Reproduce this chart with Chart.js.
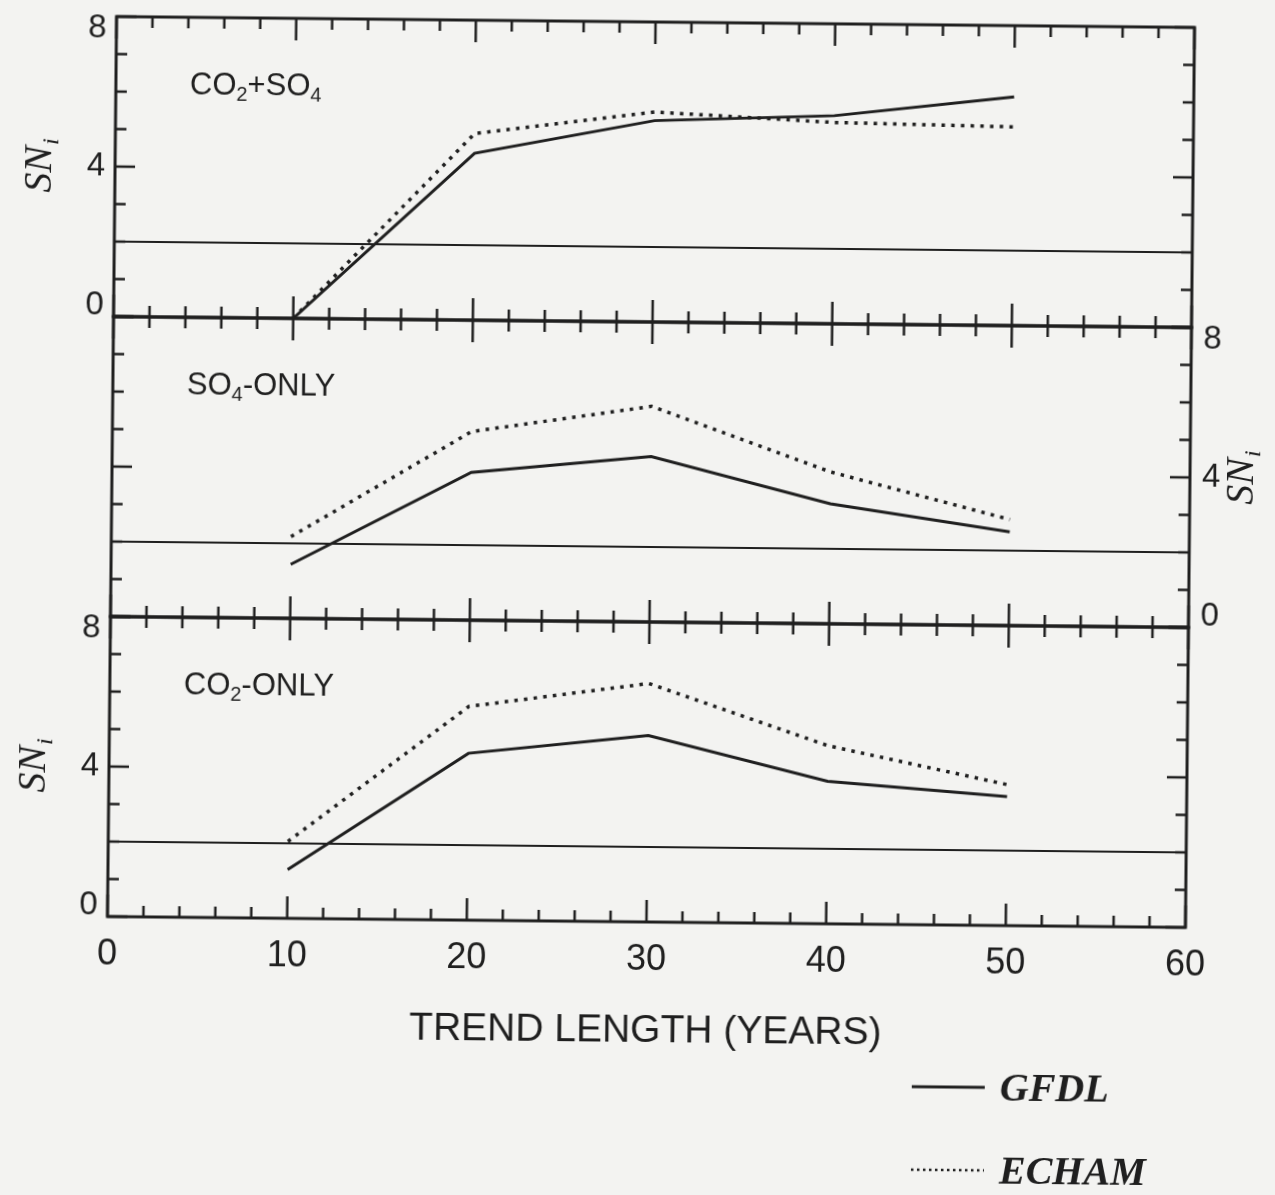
<!DOCTYPE html>
<html>
<head>
<meta charset="utf-8">
<script src="https://cdn.jsdelivr.net/npm/chart.js@4"></script>
<style>
  html, body { margin: 0; padding: 0; background: #f3f3f1; overflow: hidden; }
  #figure { position: relative; width: 1275px; height: 1195px; transform: rotate(0.58deg); transform-origin: 651px 472px; }
  #figure canvas { position: absolute; left: 0; }
</style>
</head>
<body>
<div id="figure">
  <canvas id="panelTop" width="1275" height="340" style="top:0px"></canvas>
  <canvas id="panelMid" width="1275" height="340" style="top:300px"></canvas>
  <canvas id="panelBot" width="1275" height="595" style="top:600px"></canvas>
</div>
<script>
// trend length (years) on the x axis
const trendYears = [10, 20, 30, 40, 50];

// SN_i for each experiment
const gfdlCO2SO4 = [0, 4.45, 5.37, 5.55, 6.1];
const echamCO2SO4 = [0, 4.98, 5.6, 5.37, 5.3];
const gfdlSO4 = [1.44, 3.94, 4.41, 3.2, 2.5];
const echamSO4 = [2.18, 5.03, 5.75, 4.05, 2.83];
const gfdlCO2 = [1.3, 4.45, 4.97, 3.8, 3.44];
const echamCO2 = [2.05, 5.7, 6.36, 4.75, 3.76];

// detection threshold
const thresholdYears = [0, 60];
const thresholdSN = [2, 2];

// tick labels
const xTickLabels = ['0', '10', '20', '30', '40', '50', '60'];
const yTickLabels = ['0', '4', '8'];

// panel names (text, subscript?)
const panelText = {
  panelTop: { runs: [['CO', false], ['2', true], ['+SO', false], ['4', true]], side: 'left' },
  panelMid: { runs: [['SO', false], ['4', true], ['-ONLY', false]], side: 'right' },
  panelBot: { runs: [['CO', false], ['2', true], ['-ONLY', false]], side: 'left', legend: true }
};

const INK = '#1f1f1f';
const SANS = '"Liberation Sans", Arial, sans-serif';
const SERIF = '"Liberation Serif", "Times New Roman", serif';

function makeSeries(label, values) {
  const dotted = label === 'ECHAM';
  return {
    label: label,
    data: trendYears.map((yr, i) => ({ x: yr, y: values[i] })),
    borderColor: INK,
    borderWidth: dotted ? 3.5 : 3,
    borderDash: dotted ? [3.5, 6.2] : [],
    pointRadius: 0,
    tension: 0,
    fill: false
  };
}

function thresholdLine() {
  return {
    label: 'threshold',
    data: thresholdYears.map((yr, i) => ({ x: yr, y: thresholdSN[i] })),
    borderColor: INK,
    borderWidth: 2,
    pointRadius: 0,
    fill: false
  };
}

// frame with inward ticks, panel name, SN_i title, legend
const panelDecor = {
  id: 'panelDecor',
  afterDatasetsDraw(chart) {
    const { ctx, chartArea: a, scales: { x, y } } = chart;
    const info = panelText[chart.canvas.id];
    ctx.save();
    ctx.strokeStyle = INK;
    ctx.fillStyle = INK;
    ctx.lineWidth = 3;
    ctx.strokeRect(a.left, a.top, a.right - a.left, a.bottom - a.top);

    ctx.lineWidth = 2.5;
    ctx.beginPath();
    for (let v = 0; v <= 60; v += 2) {
      const px = x.getPixelForValue(v);
      const len = v % 10 === 0 ? 22 : 11;
      ctx.moveTo(px, a.top); ctx.lineTo(px, a.top + len);
      ctx.moveTo(px, a.bottom); ctx.lineTo(px, a.bottom - len);
    }
    for (let v = 0; v <= 8; v += 1) {
      const py = y.getPixelForValue(v);
      const len = v % 4 === 0 ? 20 : 11;
      ctx.moveTo(a.left, py); ctx.lineTo(a.left + len, py);
      ctx.moveTo(a.right, py); ctx.lineTo(a.right - len, py);
    }
    ctx.stroke();

    // panel name with subscripts
    let tx = 186;
    const base = a.top + 77;
    ctx.textBaseline = 'alphabetic';
    ctx.textAlign = 'left';
    info.runs.forEach(([text, sub]) => {
      ctx.font = (sub ? '20px ' : '31px ') + SANS;
      ctx.fillText(text, tx, base + (sub ? 6 : 0));
      tx += ctx.measureText(text).width;
    });

    // SN_i axis title, reading upwards
    const cx = info.side === 'left' ? 35 : 1240;
    const cy = (a.top + a.bottom) / 2;
    ctx.translate(cx, cy);
    ctx.rotate(-Math.PI / 2);
    ctx.font = 'italic 40px ' + SERIF;
    const w1 = ctx.measureText('SN').width;
    ctx.font = 'italic 24px ' + SERIF;
    const w2 = ctx.measureText('i').width;
    const x0 = -(w1 + w2) / 2;
    ctx.font = 'italic 40px ' + SERIF;
    ctx.fillText('SN', x0, 13);
    ctx.font = 'italic 24px ' + SERIF;
    ctx.fillText('i', x0 + w1 + 1, 20);
    ctx.setTransform(1, 0, 0, 1, 0, 0);

    if (info.legend) {
      const rows = [{ label: 'GFDL', y: 484 }, { label: 'ECHAM', y: 567 }];
      rows.forEach(r => {
        const ds = chart.data.datasets.find(d => d.label === r.label);
        ctx.beginPath();
        ctx.lineWidth = ds.borderDash.length ? 2.5 : 3;
        ctx.setLineDash(ds.borderDash.length ? [2.5, 3.5] : []);
        ctx.moveTo(918, r.y);
        ctx.lineTo(991, r.y);
        ctx.stroke();
        ctx.setLineDash([]);
        ctx.font = 'italic bold 40px ' + SERIF;
        ctx.fillText(r.label, 1006, r.y + 13);
      });
    }
    ctx.restore();
  }
};

function yLabel(value) {
  const s = yTickLabels[value / 4];
  if (value === 8) return ['', s];
  if (value === 0) return [s, ''];
  return s;
}

function makePanel(id, gfdl, echam, opts) {
  const showX = !!opts.showX;
  return new Chart(document.getElementById(id), {
    type: 'line',
    data: { datasets: [makeSeries('GFDL', gfdl), makeSeries('ECHAM', echam), thresholdLine()] },
    options: {
      responsive: false,
      animation: false,
      devicePixelRatio: 1,
      layout: { padding: opts.padding },
      plugins: { legend: { display: false }, tooltip: { enabled: false } },
      scales: {
        x: {
          type: 'linear',
          min: 0, max: 60,
          display: showX,
          grid: { display: false, drawTicks: false },
          border: { display: false },
          ticks: {
            stepSize: 10, autoSkip: false, maxRotation: 0, padding: 16,
            color: INK, font: { family: SANS, size: 36 },
            callback: v => xTickLabels[v / 10]
          },
          title: {
            display: showX, text: 'TREND LENGTH (YEARS)', color: INK,
            font: { family: SANS, size: 39 }, padding: { top: 0, bottom: 140 }
          },
          afterFit: s => {
            if (showX) s.height = 273;
            s.paddingLeft = 0; s.paddingRight = 0;
          }
        },
        y: {
          position: opts.side,
          min: 0, max: 8,
          grid: { display: false, drawTicks: false },
          border: { display: false },
          ticks: {
            stepSize: 4, autoSkip: false, padding: opts.side === 'left' ? 10 : 12,
            color: INK, font: { family: SANS, size: 33, lineHeight: 0.7 },
            callback: yLabel
          },
          // the end labels sit inside the panel, so no extra room is needed
          afterFit: s => {
            s.width = opts.side === 'left' ? 112 : 85;
            s.paddingTop = 0; s.paddingBottom = 0;
          }
        }
      }
    },
    plugins: [panelDecor]
  });
}

makePanel('panelTop', gfdlCO2SO4, echamCO2SO4, { side: 'left', padding: { top: 22, bottom: 18, left: 0, right: 85 } });
makePanel('panelMid', gfdlSO4, echamSO4, { side: 'right', padding: { top: 22, bottom: 18, left: 112, right: 0 } });
makePanel('panelBot', gfdlCO2, echamCO2, { side: 'left', showX: true, padding: { top: 22, bottom: 0, left: 0, right: 85 } });
</script>
</body>
</html>
